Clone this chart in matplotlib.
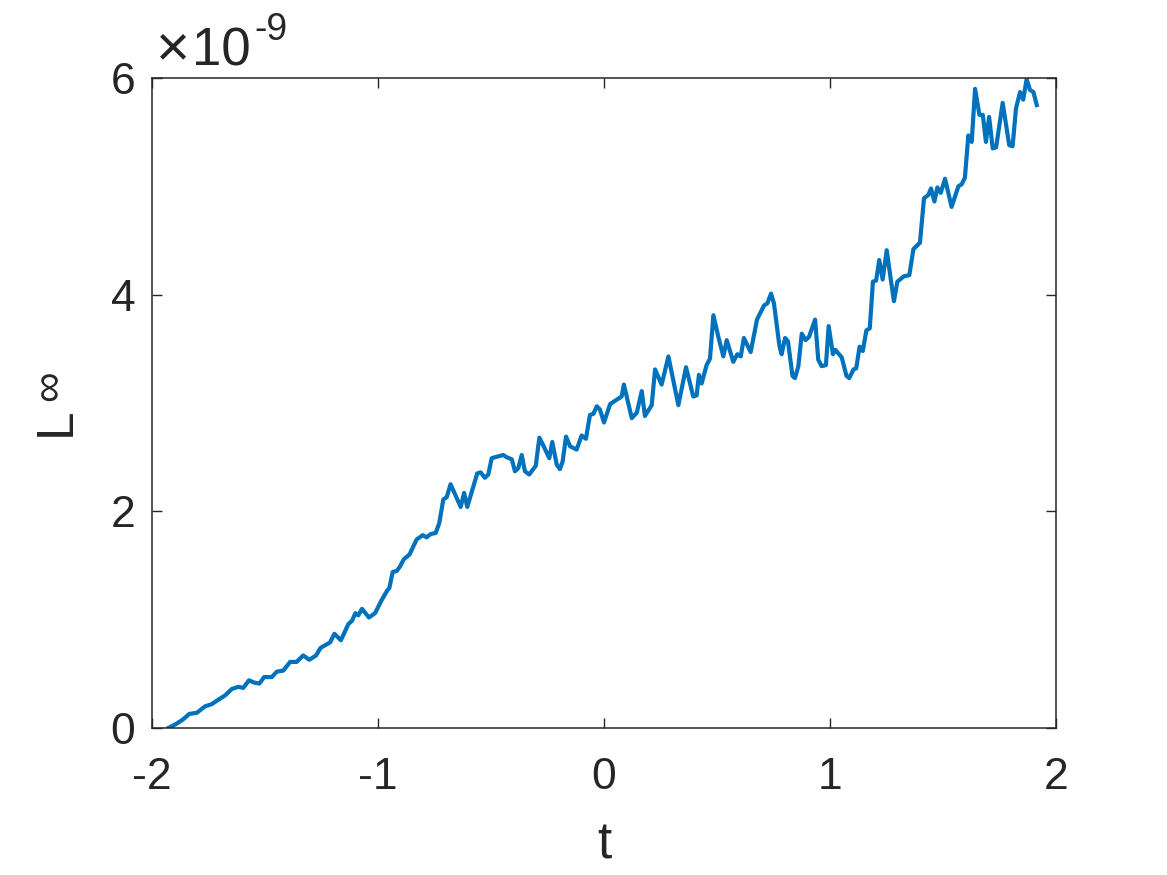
import numpy as np
import matplotlib
matplotlib.use('Agg')
import matplotlib.pyplot as plt

# Données (L en unités de 1e-9)
t = [-1.928, -1.891, -1.862, -1.835, -1.802, -1.765, -1.736, -1.707, -1.677, -1.647,
     -1.618, -1.596, -1.571, -1.549, -1.525, -1.504, -1.470, -1.448, -1.419, -1.389,
     -1.360, -1.331, -1.304, -1.274, -1.254, -1.212, -1.193, -1.164, -1.131, -1.115,
     -1.100, -1.087, -1.071, -1.040, -1.013, -0.984, -0.959, -0.950, -0.935, -0.917,
     -0.903, -0.885, -0.861, -0.829, -0.802, -0.785, -0.767, -0.745, -0.729, -0.711,
     -0.696, -0.679, -0.634, -0.619, -0.605, -0.561, -0.546, -0.527, -0.512, -0.497,
     -0.482, -0.446, -0.431, -0.408, -0.394, -0.379, -0.364, -0.350, -0.331, -0.302,
     -0.286, -0.269, -0.242, -0.229, -0.209, -0.195, -0.183, -0.168, -0.150, -0.121,
     -0.099, -0.080, -0.062, -0.047, -0.032, -0.018, 0.000, 0.027, 0.063, 0.078,
     0.088, 0.123, 0.145, 0.167, 0.181, 0.211, 0.226, 0.255, 0.285, 0.329,
     0.363, 0.395, 0.410, 0.420, 0.432, 0.454, 0.469, 0.484, 0.506, 0.528,
     0.543, 0.572, 0.590, 0.605, 0.619, 0.649, 0.677, 0.708, 0.723, 0.739,
     0.752, 0.776, 0.786, 0.801, 0.814, 0.834, 0.845, 0.860, 0.875, 0.892,
     0.907, 0.934, 0.948, 0.963, 0.982, 0.994, 1.013, 1.024, 1.052, 1.073,
     1.085, 1.104, 1.116, 1.131, 1.145, 1.161, 1.176, 1.190, 1.204, 1.218,
     1.233, 1.251, 1.269, 1.283, 1.298, 1.327, 1.351, 1.369, 1.398, 1.416,
     1.435, 1.447, 1.462, 1.475, 1.490, 1.509, 1.538, 1.568, 1.583, 1.597,
     1.612, 1.627, 1.642, 1.661, 1.676, 1.690, 1.704, 1.720, 1.735, 1.764,
     1.793, 1.808, 1.823, 1.841, 1.855, 1.870, 1.885, 1.900, 1.915]

L_inf = [0.00, 0.04, 0.08, 0.13, 0.14, 0.20, 0.22, 0.26, 0.30, 0.36,
         0.38, 0.37, 0.44, 0.42, 0.41, 0.47, 0.47, 0.52, 0.53, 0.61,
         0.61, 0.67, 0.63, 0.67, 0.74, 0.79, 0.87, 0.81, 0.96, 0.99,
         1.06, 1.04, 1.10, 1.02, 1.06, 1.18, 1.27, 1.29, 1.44, 1.45,
         1.49, 1.56, 1.60, 1.74, 1.78, 1.76, 1.79, 1.80, 1.89, 2.11,
         2.13, 2.25, 2.04, 2.17, 2.04, 2.35, 2.36, 2.31, 2.34, 2.49,
         2.50, 2.52, 2.50, 2.48, 2.37, 2.40, 2.52, 2.37, 2.34, 2.42,
         2.68, 2.61, 2.49, 2.64, 2.43, 2.39, 2.46, 2.69, 2.60, 2.57,
         2.70, 2.67, 2.89, 2.90, 2.97, 2.94, 2.82, 2.99, 3.04, 3.06,
         3.17, 2.86, 2.91, 3.11, 2.88, 2.98, 3.31, 3.17, 3.43, 2.98,
         3.33, 3.06, 3.07, 3.26, 3.18, 3.35, 3.41, 3.81, 3.61, 3.43,
         3.58, 3.38, 3.45, 3.43, 3.60, 3.47, 3.77, 3.90, 3.92, 4.01,
         3.92, 3.53, 3.45, 3.60, 3.57, 3.25, 3.23, 3.34, 3.64, 3.58,
         3.61, 3.77, 3.40, 3.34, 3.35, 3.71, 3.45, 3.49, 3.42, 3.25,
         3.23, 3.31, 3.32, 3.52, 3.48, 3.67, 3.69, 4.12, 4.13, 4.32,
         4.14, 4.41, 4.14, 3.94, 4.12, 4.17, 4.18, 4.42, 4.48, 4.89,
         4.92, 4.98, 4.86, 4.99, 4.94, 5.07, 4.81, 5.00, 5.02, 5.08,
         5.47, 5.41, 5.90, 5.66, 5.66, 5.41, 5.64, 5.35, 5.36, 5.77,
         5.38, 5.37, 5.72, 5.87, 5.80, 5.99, 5.89, 5.87, 5.75]

x_ticks = [-2, -1, 0, 1, 2]
y_ticks = [0, 2, 4, 6]

plt.rcParams['font.family'] = ['Liberation Sans', 'DejaVu Sans']
plt.rcParams['axes.unicode_minus'] = False

W, H = 1167, 875
fig = plt.figure(figsize=(W / 100, H / 100), dpi=100)
ax = fig.add_axes([152 / W, 1 - 728 / H, 904 / W, 650 / H])

ax.plot(t, L_inf, color='#0072BD', linewidth=3.0)

ax.set_xlim(-2, 2)
ax.set_ylim(0, 6)
ax.set_xticks(x_ticks)
ax.set_yticks(y_ticks)
ax.set_xticklabels([str(v) for v in x_ticks])
ax.set_yticklabels([str(v) for v in y_ticks])

dark = '#262626'
ax.tick_params(direction='in', length=7, width=1, colors=dark, labelsize=32,
               top=True, right=True)
ax.tick_params(axis='x', pad=21)
ax.tick_params(axis='y', pad=12)
for s in ax.spines.values():
    s.set_color(dark)
    s.set_linewidth(1.1)

ax.set_xlabel('t', fontsize=37, color=dark, labelpad=16)

# étiquette y : L avec l'infini en exposant (grand, comme sous MATLAB)
fig.text(56 / W, 1 - 422 / H, 'L', rotation=90, fontsize=37, color=dark,
         ha='center', va='center')
fig.text(50 / W, 1 - 386 / H, '\u221e', rotation=90, fontsize=31, color=dark,
         ha='center', va='center')

# facteur d'échelle façon MATLAB
fig.text(156 / W, 1 - 65 / H, '\u00d7', fontsize=42, color=dark,
         ha='left', va='baseline')
fig.text(192 / W, 1 - 65 / H, '10', fontsize=38, color=dark,
         ha='left', va='baseline')
fig.text(254 / W, 1 - 40 / H, '-9', fontsize=27, color=dark,
         ha='left', va='baseline')

fig.savefig('out.png', dpi=100)
